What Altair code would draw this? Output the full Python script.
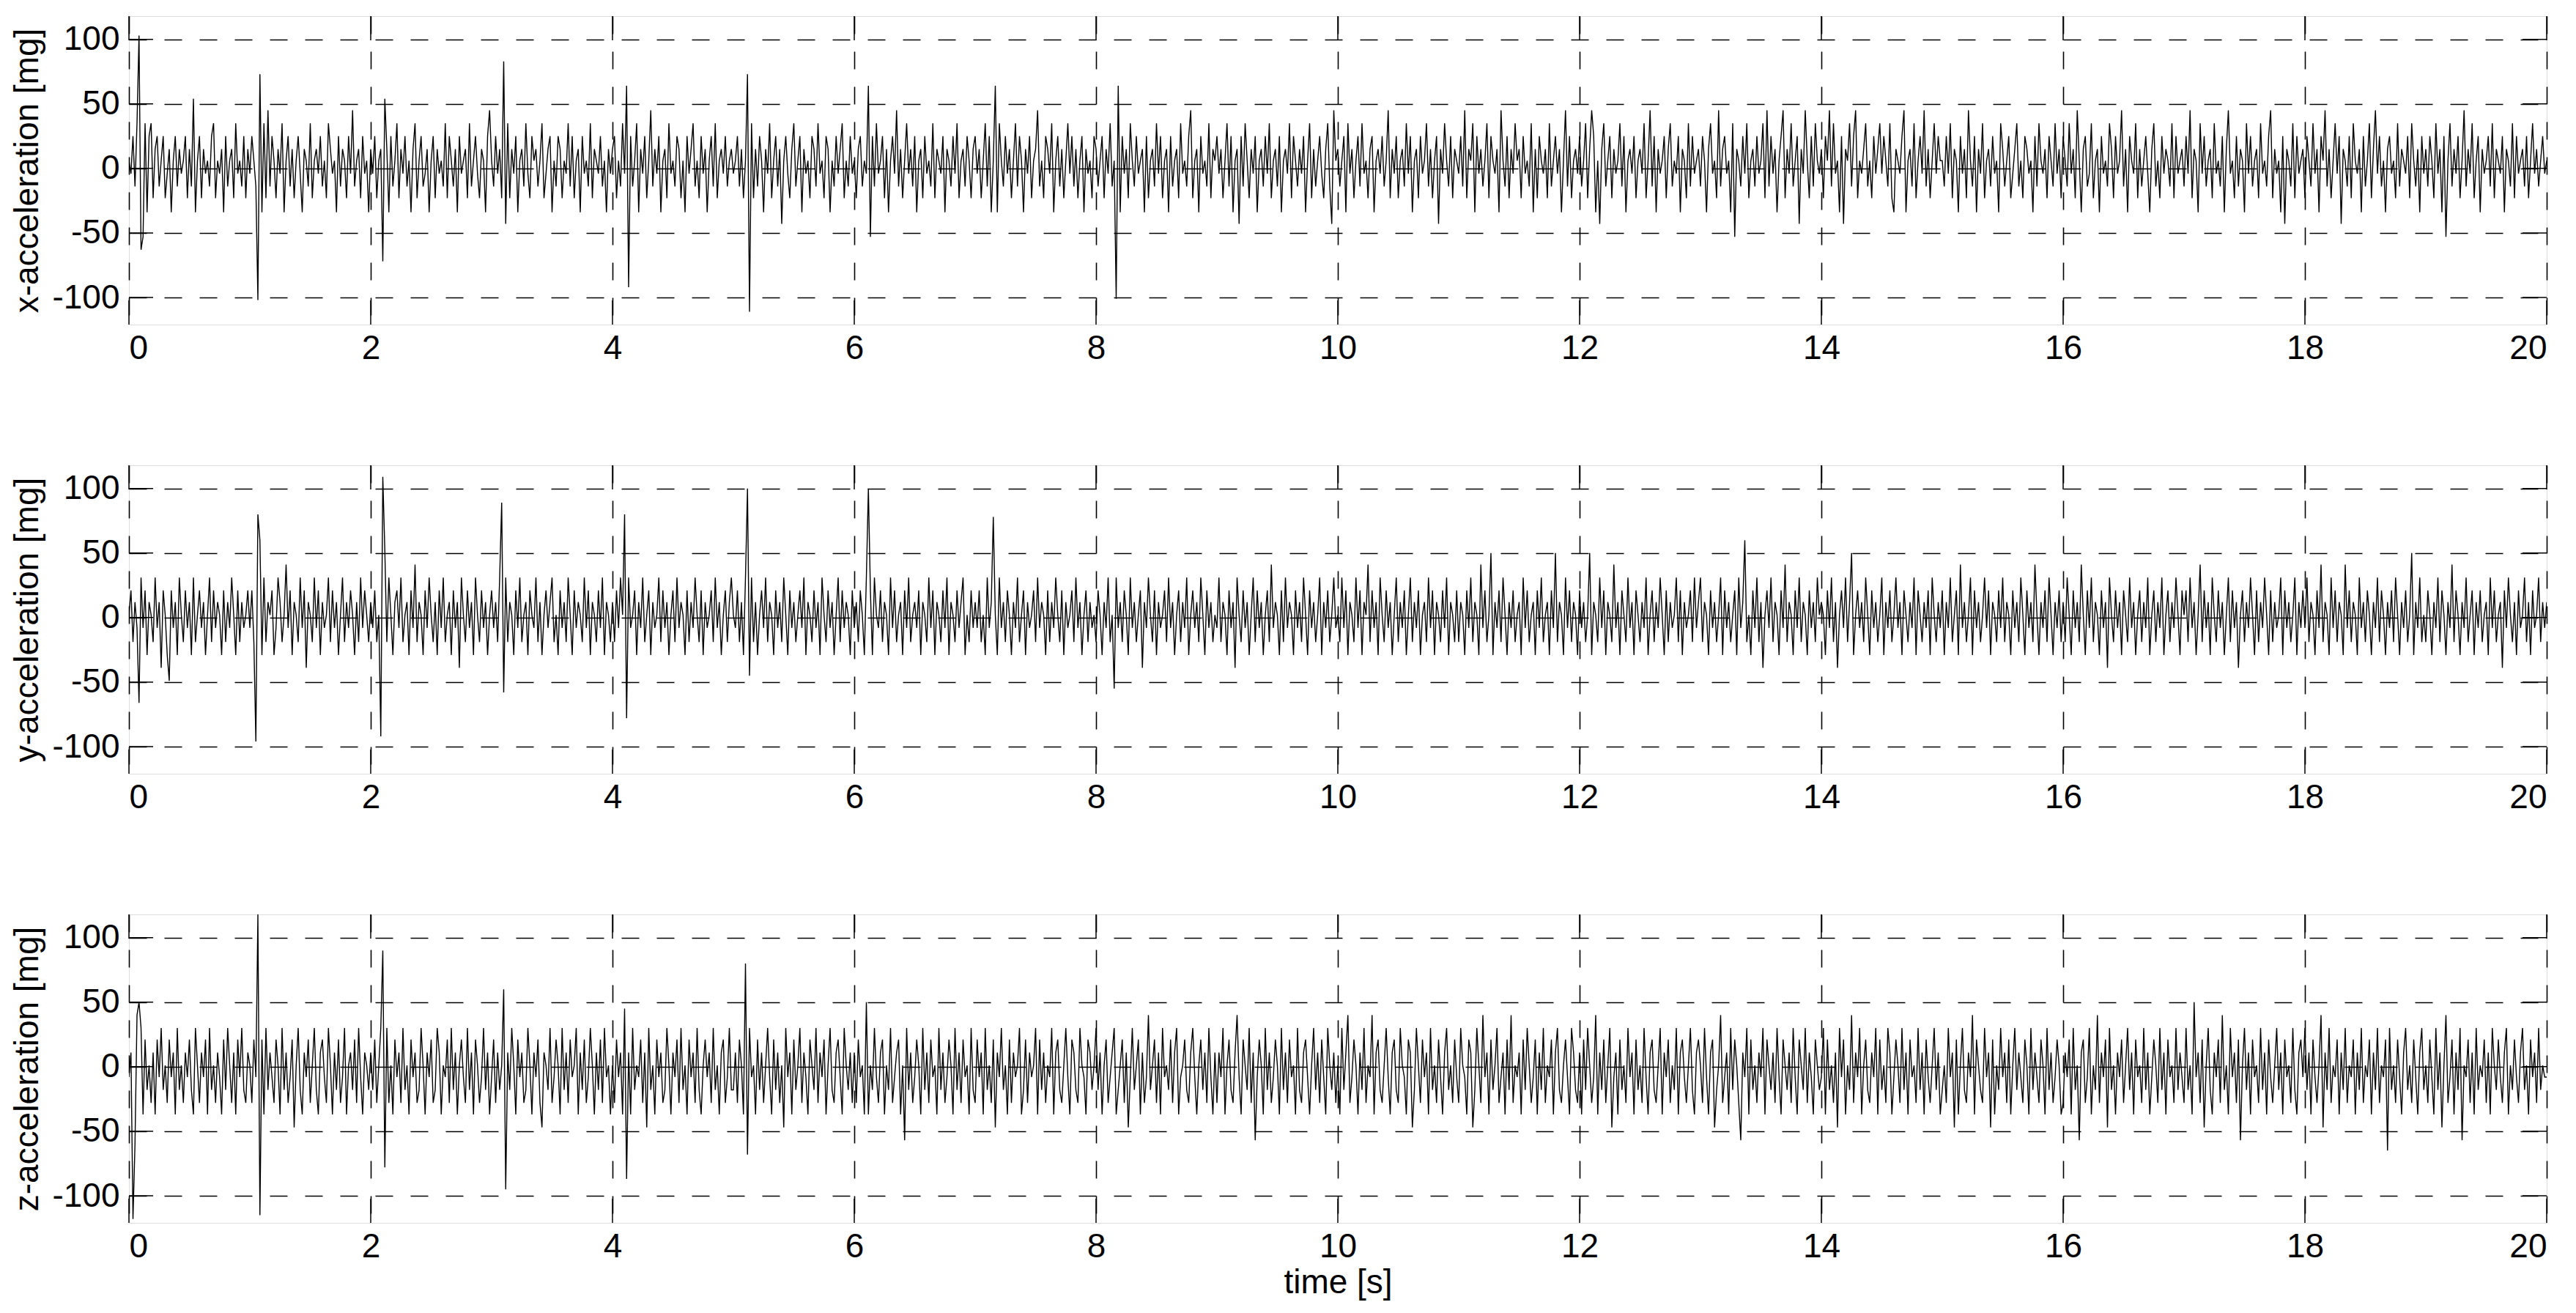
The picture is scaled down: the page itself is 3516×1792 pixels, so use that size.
import altair as alt
import pandas as pd

SAMPLE_RATE = 60  # samples per second drawn

# x-acceleration [mg], one row per second
x_acc = [
    6, -4, 25, -14, 35, 103, -63, -53, 35, -34, 25, 35, -23, 15, 25, -14, 6, 25, -23, -4, 15, -34, 6, 25, -14, 15, -4, 6, 25, -23,
    15, -14, 54, -34, 6, 25, -23, 15, -4, 6, -14, 25, 35, -23, 6, -4, 15, -34, 25, -14, 6, 15, -23, 35, -4, 6, -14, 25, -23, 15,
    -4, 25, 6, -14, -102, 73, -34, 35, -23, 45, -14, 25, 6, -23, 15, -4, 35, -34, 6, 25, -14, 15, -23, 6, 25, -4, -34, 15, 6, -14,
    35, -23, 6, 15, -4, 25, -14, 6, -23, 35, 15, -4, 6, -34, 25, -14, 15, 6, -23, 25, -4, 45, -14, 6, 15, -23, 25, -4, 6, -34,
    15, -4, 25, -23, 6, 15, -72, 54, 15, -34, 25, -14, 6, 35, -23, 15, -4, 25, -14, 6, -34, 15, 35, -23, 6, 25, -14, -4, 15, -34,
    6, 25, -23, 15, -4, 6, -14, 35, -23, 25, 6, -14, 15, -34, 25, -4, 6, 15, -23, 35, -14, 6, 25, -4, -23, 15, 6, -34, 25, 45,
    6, -14, 25, -4, 15, -23, 83, -43, 35, -23, 15, -4, 25, -34, 6, 15, -14, 35, -4, -23, 25, 6, 15, -14, 6, 35, -23, -4, 15, 25,
    -34, 6, -14, 25, 15, -23, 6, -4, 35, -14, 25, -23, 6, 15, -34, 25, -4, 6, -14, 35, -23, 15, 6, -4, 25, -14, 6, -34, 15, -4,
    15, 25, -23, 6, -14, 35, -4, 64, -92, 25, -14, 6, 35, -34, 15, -4, 25, -23, 6, 45, -14, 15, -4, 25, -34, 6, 15, -23, 35, -4,
    6, -14, 25, 15, -23, 6, -34, 25, -4, 15, 35, -14, 6, -23, 25, -4, 15, -34, 6, 25, -14, 35, -23, 6, 15, -4, 25, -14, 6, 15,
    -4, 6, 25, -14, 15, -23, 6, 73, -111, 35, -23, 15, -14, 25, 6, -34, 15, -4, 35, -23, 6, 25, -14, 15, -43, 6, 25, -4, -23, 15,
    35, -14, 6, 25, -34, 15, -4, 6, -23, 25, 15, -14, 35, -4, 6, -23, 25, 15, -34, 6, -14, 25, -4, 15, 35, -23, 6, -14, 25, -4,
    6, -23, 15, 25, -14, 6, -4, 64, -53, 25, -14, 35, -4, 6, 25, -23, 15, -34, 6, 25, -4, 45, -14, 15, -23, 6, 35, -4, 15, -14,
    25, -34, 6, 15, -23, 25, -4, 6, -14, 35, -23, 15, 6, -4, 25, -34, 15, 6, -14, 25, -4, 35, -23, 6, 15, -14, 25, 6, -23, 15,
    25, -4, 15, -23, 6, 35, -14, 25, -34, 6, 64, -34, 35, 6, -14, 25, -4, 15, -23, 6, 35, -14, 25, 6, -34, 15, -4, 25, -23, 6,
    15, 45, -14, 6, -23, 25, 15, -4, 35, -34, 6, 25, -14, 15, -23, 6, 35, -4, 25, -14, 15, -23, 6, 25, -34, 15, -4, 6, -23, 25,
    15, -14, 6, 25, -23, 15, -4, 35, -14, 6, -101, 64, -34, 25, -4, 15, -23, 35, 6, -14, 25, -4, 6, 15, -34, 25, -23, 6, 15, -14,
    35, -4, 25, -23, 6, 15, -34, 25, -14, 6, 15, -23, 35, -4, 6, -14, 25, 45, -23, 6, 15, -34, 25, -4, 6, -14, 35, -23, 15, 6,
    25, -4, 15, -23, 6, 35, -14, 25, -34, 6, 15, -43, 25, -14, 35, 6, -23, 15, -4, 25, -34, 6, 15, -14, 25, -4, 35, -23, 6, 15,
    -14, 25, -34, 6, 15, -4, 35, -23, 25, 6, -14, 15, -4, 25, -34, 6, 35, -23, 15, -14, 6, 25, -4, -23, 15, 35, -14, -43, 45, 6,
    15, -14, 6, 25, -34, 35, -4, 15, -23, 6, 25, -14, 35, -4, 6, -23, 15, 25, -34, 6, 15, -4, 25, -14, 6, 45, -23, 15, -4, 25,
    -23, 6, 15, -14, 35, -4, 25, -34, 6, 15, -23, 25, -4, 6, 35, -14, 15, -23, 6, 25, -43, 15, -4, 35, 6, -14, 25, -23, 15, 6,
    -4, 25, -14, 45, -23, 15, 6, 35, -34, 25, -4, 15, -14, 6, 35, -23, 25, 6, -4, 15, -34, 45, 6, -14, 25, -23, 15, -4, 35, 6,
    15, -23, 25, -4, 6, -14, 35, -34, 15, -23, 25, 6, -4, 15, -23, 35, -14, 6, 25, -4, 15, -34, 6, 45, -14, 25, -23, 6, 15, -4,
    25, -14, 6, 35, -23, 15, 45, 25, -34, 6, -43, 15, 35, -14, 6, 25, -23, 15, -4, 6, 35, -14, 25, -34, 6, 15, -4, 25, -23, 6,
    15, -4, 35, -23, 6, 45, -14, 25, -34, 15, -4, 6, 25, -23, 15, 35, -14, 6, -4, 25, -34, 15, 6, -23, 35, -14, 25, -4, 6, 15,
    -14, 25, 6, -34, 15, 35, -4, 6, -23, 45, -14, 15, 25, -4, 6, -34, 35, -53, 15, 6, -14, 25, -4, 35, -23, 6, 15, -14, 25, -4,
    6, 35, -23, 45, -14, 25, -4, 15, -34, 6, 25, 45, -23, 15, -4, 35, -14, 6, 25, -43, 15, -4, 45, 6, -23, 25, -14, 35, 6, -4,
    15, -23, 25, 6, 45, -14, 35, -4, 6, -34, 25, -43, 15, 6, 35, -14, 25, 45, -23, 6, -4, 15, 35, -14, 6, -23, 25, -4, 15, 35,
    -4, 25, 6, -14, 35, -23, -34, 15, 6, -4, 25, 45, -34, 6, 15, -14, 35, -23, 6, 25, -4, 45, -14, 15, -23, 6, 35, -4, 25, 6,
    6, -14, 25, -4, 35, -23, 15, 6, -34, 25, -4, 15, -23, 45, 6, -14, 25, -34, 15, -4, 35, -23, 6, 15, -14, 25, -4, 6, -34, 35,
    15, -14, 6, 25, -23, -4, 15, 35, -14, 6, -23, 25, 15, -4, 6, -34, 25, -14, 35, 6, -4, 15, -23, 25, 6, -14, 35, -4, 15, -23,
    25, 6, -14, 35, -4, 15, -23, 45, 6, -34, 15, 25, -14, -4, 35, -23, 6, 15, -34, 25, -4, 6, -14, 35, 15, -23, 25, -4, 6, 45,
    -14, 15, -34, 25, 6, -4, 35, -23, 15, -14, 6, 25, -4, -34, 15, 35, -14, 6, -23, 25, -4, 15, 6, -14, 35, -23, 25, -4, 6, 15,
    -14, 25, -4, 45, -23, 15, 6, -34, 35, -4, 25, -14, 6, 15, -23, 35, -4, 6, -14, 25, -34, 15, 45, -4, 6, -23, 25, -14, 15, 6,
    -34, 35, -4, 25, -14, 6, 15, -23, 35, -4, 6, -14, 25, 45, -23, 15, -4, 6, -34, 25, -43, 15, 6, -14, 35, -23, 25, -4, 6, 15,
    -23, 25, 6, -14, 35, -4, 15, -34, 25, 6, 45, -14, 15, -23, 6, 35, -4, 25, -43, 15, 6, -14, 25, -23, 35, 6, -4, 15, -34, 25,
    -14, 6, 35, -23, 15, 45, -4, 25, -14, 6, -34, 15, 25, -4, 6, -23, 35, -14, 15, 6, -4, 25, -23, 35, 6, -14, 15, -34, 25, -4,
    15, -14, 25, 6, -23, 35, -4, 15, -34, 25, -53, 6, 35, -14, 15, -4, 25, -23, 6, 45, -14, 15, -4, 35, -23, 6, 25, -34, 15, -4,
    6, 25, -14, 35, -23, 15, 6, -4, 25, -34, 15, 6, -14, 35, -23, 25, -4, 6, 15, -14, 25, -23, 6, 35, -4, 15, -14, 6, 25, -4,
    6,
]

# y-acceleration [mg]
y_acc = [
    2, 21, -19, 12, -8, -66, 31, -8, 21, -29, 12, 2, -19, 31, -8, 12, -39, 21, 2, -29, -49, 21, -8, 12, -29, 31, 2, -19, 21, -8,
    12, -29, 31, -19, 2, 21, -8, 12, -29, 2, 31, -19, 21, -8, 12, 2, -29, 21, -19, 12, -8, 31, 2, -29, 21, -19, 12, -8, 2, 21,
    -8, 21, -19, -96, 80, 60, -29, 31, -19, 12, 2, 21, -29, -8, 31, 12, -19, 2, 41, -8, 21, -29, 12, 2, -19, 31, -8, 21, -39, 12,
    2, -19, 31, -8, 21, -29, 12, -8, 2, 31, -19, 21, -8, 12, -29, 2, 31, -19, 12, -8, 21, 2, -29, 12, -19, 31, -8, 21, 2, -19,
    12, -8, 21, -19, 2, -92, 109, 52, -19, 31, 2, -29, 12, 21, -8, 31, -19, 2, 12, -29, 21, -8, 41, -19, 12, 2, -29, 21, -8, 31,
    2, -19, 12, -29, 21, -8, 31, -19, 2, 12, -29, 21, -8, 12, -39, 31, 2, -19, 21, -8, 12, -29, 31, 2, -19, 21, -8, 12, -29, 2,
    21, -8, 12, -19, 31, 89, -58, 31, -19, 12, 2, -29, 21, -8, 31, -19, 2, 12, -29, 21, 2, -8, 31, -19, 12, -29, 2, 21, -8, 12,
    31, -19, 2, -29, 21, -8, 12, -19, 31, 2, -29, 21, -8, 12, 2, -19, 31, -8, 21, -29, 12, 2, -19, 21, -8, 31, -29, 12, 2, -19,
    12, -19, 21, -8, 31, 2, 80, -78, 31, -8, 2, 21, -29, 12, -8, 31, -19, 2, 21, -29, 12, -8, 2, 31, -19, 21, -8, 12, -29, 2,
    21, -19, 31, -8, 12, 2, -29, 21, -19, 12, -8, 31, 2, -19, 21, -29, 12, -8, 2, 21, -19, 31, -8, 12, -29, 2, 21, -19, 12, 31,
    2, -8, 21, -19, 12, -29, 31, 100, -45, 31, -19, 12, -29, 2, 21, -8, 31, -19, 12, 2, -29, 21, -8, 12, -19, 31, 2, -29, 21, -8,
    12, -19, 2, 21, -8, 31, -29, 12, 2, -19, 21, -8, 12, -29, 31, 2, -19, 21, -8, 12, -29, 2, 31, -19, 21, -8, 12, 2, -29, 21,
    -8, 12, -19, 21, 2, -29, 31, 100, 21, -29, 31, 2, -8, 21, -19, 12, 2, -29, 31, -8, 21, -19, 2, 12, -29, 21, -8, 31, -19, 2,
    12, -8, 21, -29, 12, 2, -19, 31, -8, 21, -29, 12, 2, -19, 21, -8, 31, -29, 12, 2, -19, 21, -8, 12, 31, -29, 2, -19, 21, -8,
    12, -8, 21, -19, 2, -29, 31, -8, 12, 78, 2, -29, 31, -8, 12, -19, 21, 2, -29, 12, -8, 31, -19, 2, 21, -29, 12, -8, 2, 21,
    -19, 31, -8, 12, 2, -29, 21, -19, 12, -8, 31, 2, -19, 21, -29, 12, -8, 2, 21, -19, 31, -8, 12, -29, 2, 21, -19, 12, -8, 2,
    -19, 21, 2, -29, 12, -8, 31, -19, 2, -55, 31, -8, 12, -19, 21, 2, -29, 31, -8, 12, -19, 2, 21, -39, 12, -8, 31, 2, -19, 21,
    -29, 12, -8, 2, 21, -19, 31, -8, 12, -29, 2, 21, -19, 12, -8, 31, -29, 2, 21, -8, 12, -19, 31, 2, -29, 21, -8, 12, -19, 2,
    -8, 31, -19, 12, 2, -29, 21, -8, 12, -39, 31, 2, -19, 21, -8, 12, -29, 2, 31, -19, 21, -8, 12, -29, 2, 21, -19, 41, -8, 12,
    2, -29, 21, -19, 31, -8, 12, 2, -29, 21, -8, 12, -19, 31, 2, -29, 21, -8, 12, -19, 2, 31, -29, 12, -8, 21, -19, 2, 31, -8,
    2, -19, 31, -8, 21, -29, 12, 2, -19, 31, -8, 21, -29, 12, 2, 41, -19, 21, -8, 12, -29, 31, 2, -19, 21, -8, 12, -29, 2, 31,
    -19, 12, -8, 21, -29, 2, 31, -19, 12, -8, 21, -29, 2, 12, -19, 31, -8, 21, -29, 12, 2, -19, 21, -8, 31, -29, 12, 2, -19, 21,
    -19, 12, 2, -29, 21, -8, 31, -19, 12, 2, -29, 41, -8, 21, -19, 2, 50, -29, 12, -8, 21, -19, 31, 2, -29, 12, -8, 21, -19, 2,
    12, -29, 31, -8, 21, -19, 2, 12, -29, 21, -8, 31, -19, 2, 12, -29, 21, -8, 50, -19, 12, 2, -29, 31, -8, 21, -19, 12, 2, -29,
    21, -8, 12, -19, 2, 50, -29, 12, 2, -19, 31, -8, 21, -29, 12, 2, -19, 41, -8, 12, -29, 21, 2, -19, 31, -8, 12, -29, 21, 2,
    -19, 12, -8, 31, -29, 2, 21, -19, 12, -8, 31, 2, -29, 21, -19, 12, -8, 2, 31, -19, 21, -29, 12, -8, 2, 21, -19, 31, -8, 12,
    31, -19, 12, 2, -29, 21, -8, 12, -19, 2, 31, -29, 21, -8, 12, -19, 2, 21, -29, 31, -8, 12, 60, -19, 2, -29, 21, -8, 31, -19,
    12, -39, 2, 21, -8, 31, -19, 12, 2, -29, 21, -8, 41, -19, 12, 2, -29, 21, -8, 31, -19, 12, 2, -29, 21, -8, 12, -19, 31, 2,
    12, 2, -29, 21, -8, 31, -19, 12, -39, 2, 21, -8, 31, -19, 12, 50, -29, 2, 21, -8, 12, -19, 31, 2, -29, 21, -8, 12, -19, 2,
    31, -29, 12, -8, 21, -19, 2, 31, -8, 12, -29, 21, 2, -19, 12, -8, 31, -29, 21, 2, -19, 12, -8, 21, -29, 31, 2, -19, 12, -8,
    21, -29, 12, -8, 31, -19, 2, 21, -29, 41, -8, 12, -19, 2, 31, -29, 21, -8, 12, -19, 2, 31, -8, 21, -29, 12, 2, -19, 21, -8,
    31, -19, 12, 2, -29, 21, -8, 12, -19, 31, 2, -29, 21, -8, 12, -19, 41, 2, -29, 12, -8, 21, -19, 31, 2, -29, 12, -8, 21, -19,
    12, -19, 31, 2, -29, 21, -8, 12, -19, 41, 2, -29, 21, -8, 31, -19, 12, 2, -29, 21, -8, 12, -39, 31, 2, -19, 21, -8, 12, -29,
    21, 2, -19, 31, -8, 12, -29, 2, 21, -19, 12, -8, 31, -29, 2, 21, -19, 12, -8, 31, -29, 2, 21, -19, 12, -8, 31, 2, -29, 21,
    2, 21, -19, 31, -8, 12, -29, 2, 41, -19, 21, -8, 12, -29, 31, 2, -19, 21, -8, 12, -29, 2, 31, -19, 21, -8, 12, -39, 2, 21,
    -19, 12, -8, 31, 2, -29, 21, -19, 12, -8, 31, 2, -29, 21, -19, 12, -8, 2, 31, -29, 21, -8, 12, -19, 2, 31, -29, 12, -8, 21,
    -8, 31, -19, 12, 2, -29, 21, -8, 41, -19, 12, 2, -29, 31, -8, 21, -19, 12, 2, -29, 41, -8, 21, -19, 12, 2, -29, 31, -8, 12,
    -19, 21, 2, -29, 12, -8, 31, -19, 21, 2, -29, 12, -8, 21, -19, 31, 2, -29, 12, -8, 21, -19, 2, 50, -29, 12, -8, 31, -19, 2,
    -19, 21, 2, -29, 12, -8, 31, -19, 21, 2, -29, 12, -8, 41, -19, 21, 2, -29, 12, -8, 31, -19, 2, 21, -29, 12, -8, 21, -19, 2,
    12, -29, 31, -8, 21, -19, 2, 12, -39, 21, -8, 31, 2, -19, 12, -29, 21, -8, 2, 31, -19, 12, -29, 21, -8, 2, 31, -19, 12, -8,
    12,
]

# z-acceleration [mg]
z_acc = [
    -8, 11, -118, -60, 40, 50, 30, -37, 21, -18, 1, -28, 11, -37, 21, -8, 30, -18, 1, -28, 21, -8, 11, -37, 30, -18, 1, -28, 11, -8,
    21, -18, -37, 30, 1, -28, 11, -8, 21, -37, 30, -18, 1, -28, 11, -8, -37, 21, -18, 30, 1, -28, 11, -37, 21, -8, 30, -18, -28, 11,
    1, -28, 21, -8, 118, -115, 21, -37, 30, -18, 11, -8, -28, 21, 1, -37, 30, -18, 11, -28, -8, 21, -47, 1, 30, -18, -37, 11, -8, 21,
    -28, 1, 30, -18, -37, 11, 21, -8, -28, 30, 1, -37, 11, -18, 21, -28, -8, 30, -37, 1, 11, -18, 21, -28, 30, -8, -37, 11, 1, -18,
    11, -18, 21, -28, 1, 30, 90, -78, 30, -28, 1, -37, 21, -8, 11, -28, 30, -18, 1, -37, 21, -8, 11, -28, -18, 30, 1, -37, 11, -8,
    21, -28, -18, 30, 11, -37, 1, -8, 21, -28, 30, -18, 11, -37, 1, 21, -8, -28, 30, -18, 11, -37, 21, 1, -28, -8, 30, -18, 11, -37,
    -8, 21, -28, 11, -18, 1, 60, -95, 11, -18, 30, 1, -37, 21, -8, 11, -28, -18, 30, 1, -37, 11, -8, 21, -28, -47, 11, 1, -18, 30,
    -28, -8, 21, 1, -37, 30, -18, 11, -28, 21, -8, 1, 30, -37, 11, -18, 21, -28, -8, 30, 1, -37, 11, -18, 21, -28, 30, -8, 1, -37,
    1, -28, 21, -8, 11, -37, 45, -87, 11, -37, 30, -18, 1, -8, 21, -28, 11, -47, 30, -18, 1, -37, 21, -8, 11, -28, -18, 30, 1, -37,
    11, -8, 21, -28, 30, -18, 1, -37, 21, -8, 11, -28, 30, -18, -37, 1, 21, -8, 11, -28, 30, -18, 1, -37, 11, 21, -28, -8, 30, -18,
    -18, 11, -28, 21, 1, -37, 80, -68, 30, -8, 1, -37, 21, -18, 11, -28, 1, 30, -8, -37, 21, -18, 11, -28, 1, -47, 30, -8, 11, -37,
    21, -18, 1, 30, -28, 11, -8, -37, 21, 1, -18, 30, -28, 11, -8, 21, -37, 1, 30, -18, -28, 11, 21, -8, -37, 30, 1, -18, 11, -28,
    11, -28, 21, -8, 1, -37, 50, -37, 1, -18, 30, -8, -28, 11, 21, -37, 1, -18, 30, -28, -8, 11, 21, -37, 1, -57, 30, -18, 11, -28,
    -8, 21, 1, -37, 30, -18, 11, -28, 21, -8, 1, -37, 30, -18, 11, -28, -8, 21, 1, -37, 30, -18, 11, -28, 21, -8, 1, -37, 30, -18,
    -28, 21, -8, 11, -37, 30, -18, 1, -28, 21, -47, 11, -8, 30, -18, 1, -37, 21, -28, 11, -8, 1, 30, -37, -18, 21, -28, 11, -8, 1,
    30, -37, 21, -18, 11, -28, 1, -8, 30, -37, 11, 21, -18, -28, 1, 30, -8, -37, 21, 11, -18, -28, 30, 1, -8, -37, 21, 11, -18, 1,
    30, -18, 11, -37, 1, 21, -28, -8, 11, 30, -37, -18, 1, 21, -28, 11, -47, -8, 30, -18, 1, 21, -37, 11, -28, -8, 40, -18, 1, 21,
    -28, 11, -37, 30, -8, 1, -18, 21, -28, 11, 30, -37, -8, 1, 21, -18, -28, 11, 30, -8, -37, 1, 21, -18, 11, -28, 30, -8, -37, 11,
    -28, 11, -8, 30, -37, 1, 21, -18, -28, 11, 40, -8, -37, 21, 1, -18, 30, -28, 11, -57, -8, 21, 1, -37, 30, -18, 11, -28, -8, 21,
    1, -37, 30, -18, 11, -28, 21, -8, 1, -37, 30, -18, -28, 11, 21, -8, -37, 1, 30, -18, 11, -28, 21, -8, -37, 30, 1, -18, 11, -28,
    1, -37, 30, -18, 11, 40, -28, -8, 21, 1, -37, 11, -18, 30, -28, 1, -8, 40, -37, 11, 21, -18, -28, 1, 30, -8, -37, 11, 21, -18,
    -28, 30, 1, -8, -37, 21, 11, -47, -18, 30, 1, -28, 21, -8, 11, -37, 30, -18, 1, -28, 21, -8, -37, 11, 30, -18, 1, -28, 21, -8,
    -28, 30, 1, -8, -37, 21, 11, -47, -18, 30, 1, -28, 40, -8, 11, -37, 21, -18, 1, 30, -28, -8, 11, -37, 21, -18, 40, -28, 1, -8,
    11, -37, 21, -18, 30, 1, -28, -8, 21, -37, 11, -18, 30, -28, 1, -8, 21, -37, 11, 30, -18, -28, 1, 21, -8, -37, 30, 11, -18, -28,
    11, -37, 21, -18, 30, 1, -28, -8, 40, -37, 11, -18, 21, -28, 1, 30, -47, -8, 11, -37, 21, -18, 1, -28, 30, -8, 11, -37, 21, -18,
    1, -28, 30, -8, -37, 11, 21, -18, -28, 1, 30, -37, 11, -8, 21, -28, 1, -18, 30, -37, 11, 21, -8, -28, 1, 30, -18, -37, 11, 21,
    1, -28, 30, -8, -37, 11, 21, -47, -18, 1, 40, -28, -8, 11, -37, 30, -18, 21, 1, -28, -57, 11, -8, 30, -37, 21, -18, 1, -28, 11,
    -8, 30, -37, 21, 1, -18, 11, -28, 30, -8, -37, 21, 1, -18, 11, -28, 30, -8, -37, 21, 1, -18, 30, -28, 11, -8, -37, 21, 1, -18,
    -8, 30, -37, 21, -18, 1, -28, 11, -47, 30, -8, 21, -37, 1, -18, 40, -28, 11, -8, 30, -37, 1, 21, -18, -28, 11, -8, 30, -37, 21,
    -18, 1, -28, 30, 11, -37, -8, 21, 1, -28, 30, -18, 11, -37, 21, -8, 1, -28, 30, -18, 11, -37, 21, -8, -28, 1, 30, -18, 11, -37,
    -18, 1, -28, 30, -8, 11, -47, 21, -37, 1, 30, -18, -28, 11, -8, 40, -37, 21, 1, -18, -28, 30, -8, 11, -47, 21, -37, 1, -18, 30,
    -8, 11, -28, 21, -37, 1, 30, -18, 11, -8, -28, 21, 1, -37, 30, -18, 11, -8, -28, 21, 1, -37, 30, -18, 11, -28, -8, 21, 1, -37,
    -28, 11, -8, 21, -37, 30, -18, 1, -57, 11, 21, -28, -8, 30, -37, 1, -18, 40, -28, 11, -8, 21, -47, 30, -18, 1, -37, 11, -8, 21,
    -28, 1, 30, -18, 11, -37, 21, -8, 1, -28, 30, -18, 11, -37, -8, 21, 1, -28, 30, -18, 11, -37, 21, -8, 1, -28, 30, -18, 11, -8,
    -28, 30, -18, 1, -37, 50, -8, 11, -28, 21, -47, 1, 30, -18, -37, 11, -8, 21, -28, 40, -18, 1, -37, 30, -8, 11, -28, 21, -57, 1,
    30, -18, 11, -37, 21, -8, 1, -28, 30, -18, 11, -37, 21, -8, -28, 1, 30, -18, 11, -37, 21, -8, 1, -28, 30, -18, -37, 11, 21, -8,
    30, -18, 11, -37, 21, -8, -28, 1, 40, -47, 11, -18, 30, -28, 1, -8, 21, -37, 11, -18, 30, -28, 1, -8, 21, -37, 11, -18, 30, -28,
    1, -8, 21, -37, 11, -18, 30, -28, 1, -8, 21, -65, 30, -18, 1, -28, 21, -8, -37, 11, 30, -18, 1, -28, 21, -8, -37, 11, 30, -18,
    1, -28, 21, -8, -37, 30, -18, 11, -47, 1, 40, -28, -8, 21, -37, 11, -18, 30, -57, 1, -8, 21, -28, 11, -37, 30, -18, 1, -8, 21,
    -28, 11, -37, 30, 1, -18, 21, -8, -28, 11, 30, -37, 1, -18, 21, -8, -28, 11, 30, -18, 1, -37, 21, -8, 11, -28, 30, -18, 1, -8,
    -8,
]

y_tick_values = [-100, -50, 0, 50, 100]
x_tick_values = [0, 2, 4, 6, 8, 10, 12, 14, 16, 18, 20]
titles = ["x-acceleration [mg]", "y-acceleration [mg]", "z-acceleration [mg]"]

W, H = 3300, 421
TICK_LEN = 33
FONT = "Liberation Sans"

xscale = alt.Scale(domain=[0, 20], nice=False, zero=False)
yscale = alt.Scale(domain=[-121, 118], nice=False, zero=False)


def panel(values, title, last):
    df = pd.DataFrame({"t": [i / SAMPLE_RATE for i in range(len(values))], "a": values})
    yt = pd.DataFrame({"a": y_tick_values})
    xt = pd.DataFrame({"t": x_tick_values})
    xaxis = alt.Axis(
        values=x_tick_values, title="time [s]" if last else None, grid=True,
        gridDash=[24, 24], gridColor="black", gridWidth=1.6, gridOpacity=1,
        ticks=False, domain=False, labelFontSize=46, labelPadding=10,
        titleFontSize=46, titleFontWeight="normal", titlePadding=4,
        labelColor="black", titleColor="black", labelFont=FONT, titleFont=FONT,
    )
    yaxis = alt.Axis(
        values=y_tick_values, title=title, grid=True,
        gridDash=[24, 24], gridColor="black", gridWidth=1.6, gridOpacity=1,
        ticks=False, domain=False, labelFontSize=46, labelPadding=13,
        labelExpr="'' + datum.value",
        titleFontSize=46, titleFontWeight="normal", titlePadding=9,
        labelColor="black", titleColor="black", labelFont=FONT, titleFont=FONT,
    )
    X = alt.X("t:Q", scale=xscale, axis=xaxis)
    Y = alt.Y("a:Q", scale=yscale, axis=yaxis)
    line = alt.Chart(df).mark_line(color="black", strokeWidth=1.4, clip=True).encode(x=X, y=Y)
    yl = alt.Chart(yt).mark_rule(color="black", strokeWidth=1.5).encode(
        y=Y, x=alt.value(0), x2=alt.value(TICK_LEN))
    yr = alt.Chart(yt).mark_rule(color="black", strokeWidth=1.5).encode(
        y=Y, x=alt.value(W - TICK_LEN), x2=alt.value(W))
    xb = alt.Chart(xt).mark_rule(color="black", strokeWidth=1.5).encode(
        x=X, y=alt.value(H), y2=alt.value(H - TICK_LEN))
    xtp = alt.Chart(xt).mark_rule(color="black", strokeWidth=1.5).encode(
        x=X, y=alt.value(0), y2=alt.value(TICK_LEN))
    return alt.layer(line, yl, yr, xb, xtp).properties(width=W, height=H)


chart = alt.vconcat(
    panel(x_acc, titles[0], False),
    panel(y_acc, titles[1], False),
    panel(z_acc, titles[2], True),
    spacing=192, bounds="flush",
).configure_view(
    stroke="black", strokeWidth=1.8
).configure(
    font=FONT, background="white"
).properties(
    padding={"top": 12, "left": 6, "right": 20, "bottom": 10}
)

chart.save("out.html", embed_options={"renderer": "svg", "actions": False})
